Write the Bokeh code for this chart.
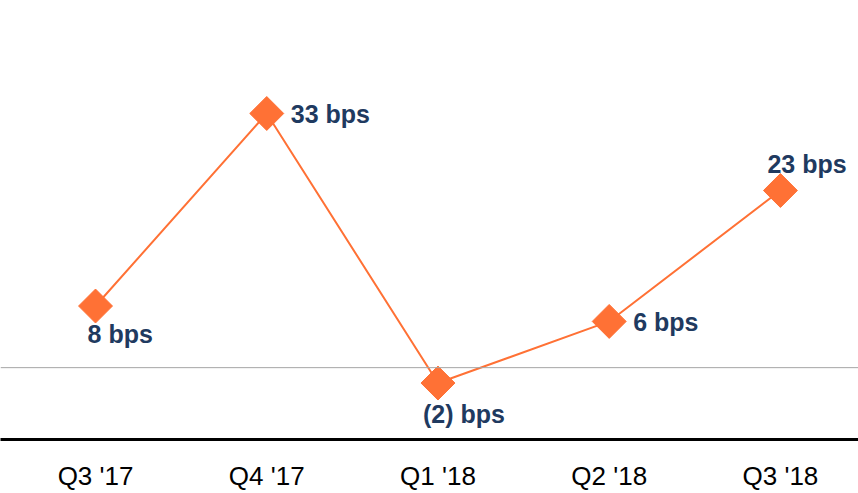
from bokeh.plotting import figure
from bokeh.models import ColumnDataSource, FixedTicker, Range1d, Span
from bokeh.embed import file_html
from bokeh.resources import INLINE
from bokeh.core.properties import value
import math

categories = ["Q3 '17", "Q4 '17", "Q1 '18", "Q2 '18", "Q3 '18"]
values_bps = [8, 33, -2, 6, 23]
labels = ["8 bps", "33 bps", "(2) bps", "6 bps", "23 bps"]

# label placement (style, pixels)
label_dx = [-8, 24, -15, 24, -13]
label_dy = [28, 1, 31, 1, -27]

ORANGE = "#FF7135"
NAVY = "#1F3A60"

xs = list(range(len(categories)))
src = ColumnDataSource(dict(x=xs, y=values_bps, label=labels, dx=label_dx, dy=label_dy))

p = figure(width=858, height=493, output_backend="svg", toolbar_location=None,
           x_range=Range1d(-0.555, 4.456), y_range=Range1d(-9.33, 47.67),
           min_border_left=0, min_border_right=0, min_border_top=0, min_border_bottom=50)
p.outline_line_color = None
p.background_fill_color = "white"
p.border_fill_color = "white"
p.grid.visible = False
p.yaxis.visible = False

p.xaxis.ticker = FixedTicker(ticks=xs)
p.xaxis.major_label_overrides = {i: c for i, c in enumerate(categories)}
p.xaxis.axis_line_color = "black"
p.xaxis.axis_line_width = 3
p.xaxis.major_tick_line_color = None
p.xaxis.minor_tick_line_color = None
p.xaxis.major_tick_out = 0
p.xaxis.major_tick_in = 0
p.xaxis.minor_tick_out = 0
p.xaxis.major_label_standoff = 21
p.xaxis.major_label_text_font = "Liberation Sans"
p.xaxis.major_label_text_font_size = "26px"
p.xaxis.major_label_text_color = "black"

zero = Span(location=0, dimension="width", line_color="#A6A6A6", line_width=1)
p.add_layout(zero)

p.line("x", "y", source=src, line_color=ORANGE, line_width=2)
p.scatter("x", "y", source=src, marker="square", size=24, angle=math.pi / 4,
          fill_color=ORANGE, line_color=ORANGE)

p.text("x", "y", text="label", source=src, x_offset="dx", y_offset="dy",
       text_font=value("Liberation Sans"), text_font_style="bold",
       text_font_size="25px", text_color=NAVY,
       text_align="left", text_baseline="middle")

open("out.html", "w").write(file_html(p, INLINE))
